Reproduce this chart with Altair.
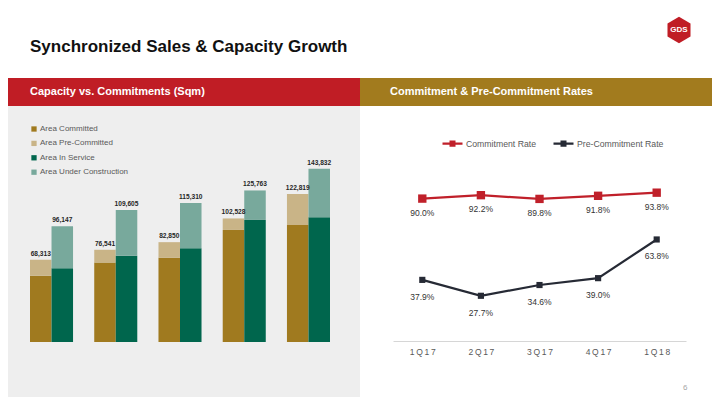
import altair as alt
import pandas as pd

# ---------------- data ----------------
quarters = ["1Q17", "2Q17", "3Q17", "4Q17", "1Q18"]
area_committed = [55058, 66012, 69876, 92982, 97095]
area_pre_committed = [13255, 10529, 12974, 9546, 25724]
area_in_service = [61176, 71597, 77813, 101288, 103513]
area_under_construction = [34971, 38008, 37497, 24475, 40319]
commit_totals = [68313, 76541, 82850, 102528, 122819]
capacity_totals = [96147, 109605, 115310, 125763, 143832]
commitment_rate = [90.0, 92.2, 89.8, 91.8, 93.8]
pre_commitment_rate = [37.9, 27.7, 34.6, 39.0, 63.8]

components = ["Area Committed", "Area Pre-Committed", "Area In Service", "Area Under Construction"]
component_colors = ["#A07A1F", "#C9B487", "#00664D", "#78A99C"]
series = ["Commitment Rate", "Pre-Commitment Rate"]
series_colors = ["#C0202A", "#262A35"]

title_text = "Synchronized Sales & Capacity Growth"
left_header = "Capacity vs. Commitments (Sqm)"
right_header = "Commitment & Pre-Commitment Rates"
page_number = "6"
logo_text = "GDS"

FONT = "Liberation Sans"

# ---------------- tables ----------------
bar_rows = []
for i, q in enumerate(quarters):
    bar_rows.append(dict(quarter=q, stack="commit", component=components[0], value=area_committed[i], ord=0))
    bar_rows.append(dict(quarter=q, stack="commit", component=components[1], value=area_pre_committed[i], ord=1))
    bar_rows.append(dict(quarter=q, stack="capacity", component=components[2], value=area_in_service[i], ord=0))
    bar_rows.append(dict(quarter=q, stack="capacity", component=components[3], value=area_under_construction[i], ord=1))
bars_df = pd.DataFrame(bar_rows)

lab_rows = []
for i, q in enumerate(quarters):
    lab_rows.append(dict(quarter=q, stack="commit", total=commit_totals[i], label=f"{commit_totals[i]:,}"))
    lab_rows.append(dict(quarter=q, stack="capacity", total=capacity_totals[i], label=f"{capacity_totals[i]:,}"))
labels_df = pd.DataFrame(lab_rows)

rate_rows = []
for i, q in enumerate(quarters):
    rate_rows.append(dict(quarter=q, series=series[0], rate=commitment_rate[i], label=f"{commitment_rate[i]:.1f}%"))
    rate_rows.append(dict(quarter=q, series=series[1], rate=pre_commitment_rate[i], label=f"{pre_commitment_rate[i]:.1f}%"))
rates_df = pd.DataFrame(rate_rows)

spaced = "join(split(datum.label, ''), '\u2009')"

W, H = 360, 405


def deco_rect(color, x0, x1, y0, y1):
    return alt.Chart(pd.DataFrame({"k": [0]})).mark_rect(color=color).encode(
        x=alt.value(x0), x2=alt.value(x1), y=alt.value(y0), y2=alt.value(y1))


def deco_text(txt, x, y, **kw):
    return alt.Chart(pd.DataFrame({"t": [txt]})).mark_text(align="left", baseline="middle", font=FONT, **kw).encode(
        x=alt.value(x), y=alt.value(y), text="t:N")


# ---------------- left panel ----------------
x_left = alt.X("quarter:N", sort=quarters,
               scale=alt.Scale(range=[30, 330], paddingInner=0.33, paddingOuter=0),
               axis=alt.Axis(title=None, labelAngle=0, ticks=False, domainColor="#D6D6D6", domainWidth=1,
                             labelColor="#595959", labelFontSize=8.5, labelPadding=7, offset=-63,
                             labelExpr=spaced, labelFont=FONT))
xoff = alt.XOffset("stack:N", sort=["commit", "capacity"], scale=alt.Scale(paddingInner=0, paddingOuter=0))
y_scale_left = alt.Scale(domain=[0, 150000], range=[342, 161.25], nice=False, zero=True)

bars = alt.Chart(bars_df).mark_bar().encode(
    x=x_left,
    xOffset=xoff,
    y=alt.Y("value:Q", stack="zero", scale=y_scale_left, axis=None),
    color=alt.Color("component:N", scale=alt.Scale(domain=components, range=component_colors),
                    legend=alt.Legend(title=None, orient="none", legendX=30, legendY=125,
                                      symbolType="square", symbolSize=28, symbolStrokeWidth=0,
                                      labelFontSize=8, labelColor="#595959", labelFont=FONT,
                                      rowPadding=6.4, labelOffset=2)),
    order=alt.Order("ord:Q"),
)

bar_labels = alt.Chart(labels_df).mark_text(baseline="alphabetic", dy=-4, fontSize=6.6, fontWeight="bold",
                                            color="#262626", font=FONT).encode(
    x=alt.X("quarter:N", sort=quarters),
    xOffset=alt.XOffset("stack:N", sort=["commit", "capacity"]),
    y=alt.Y("total:Q", scale=y_scale_left, axis=None),
    text="label:N",
)

left = alt.layer(
    deco_rect("#EEEEEE", 0, 360, 106, 405),
    deco_rect("#C01D25", 0, 360, 78, 106),
    deco_text(title_text, 30, 47, fontSize=17, fontWeight="bold", color="#111111"),
    deco_text(left_header, 30, 92, fontSize=11, fontWeight="bold", color="#FFFFFF"),
    bars,
    bar_labels,
).properties(width=W, height=H)

# ---------------- right panel ----------------
x_right = alt.X("quarter:N", sort=quarters,
                scale=alt.Scale(type="point", range=[33, 326], padding=0.5),
                axis=alt.Axis(title=None, labelAngle=0, ticks=False, domainColor="#D6D6D6", domainWidth=1,
                              labelColor="#595959", labelFontSize=8.5, labelPadding=6, offset=-64,
                              labelExpr=spaced, labelFont=FONT))
y_right = alt.Y("rate:Q", scale=alt.Scale(domain=[0, 100], range=[339, 183], nice=False), axis=None)
legend_symbol = "M-1,0L1,0M-0.3,-0.2L0.3,-0.2M-0.3,0L0.3,0M-0.3,0.2L0.3,0.2"
color_right = alt.Color("series:N", scale=alt.Scale(domain=series, range=series_colors),
                        legend=alt.Legend(title=None, orient="none", legendX=81, legendY=132,
                                          direction="horizontal", symbolType=legend_symbol,
                                          symbolSize=400, symbolStrokeWidth=2.2, labelFontSize=8.7,
                                          labelColor="#595959", labelFont=FONT, labelOffset=2,
                                          columnPadding=12))

lines = alt.Chart(rates_df).mark_line(strokeWidth=2.2).encode(x=x_right, y=y_right, color=color_right)
points = alt.Chart(rates_df).mark_point(shape="square", filled=True, opacity=1).encode(
    x=x_right, y=y_right, color=color_right,
    size=alt.Size("series:N", scale=alt.Scale(domain=series, range=[70, 38]), legend=None))
lab_commit = alt.Chart(rates_df).transform_filter(alt.datum.series == series[0]).mark_text(
    dy=14, fontSize=8.5, color="#333333", font=FONT).encode(x=x_right, y=y_right, text="label:N")
lab_pre = alt.Chart(rates_df).transform_filter(alt.datum.series == series[1]).mark_text(
    dy=17, fontSize=8.5, color="#333333", font=FONT).encode(x=x_right, y=y_right, text="label:N")

hexagon = "M0,-1L0.87,-0.5L0.87,0.5L0,1L-0.87,0.5L-0.87,-0.5Z"
logo = alt.Chart(pd.DataFrame({"k": [0]})).mark_point(shape=hexagon, filled=True, size=700, opacity=1,
                                                     color="#C01D25").encode(x=alt.value(319), y=alt.value(30))
logo_t = alt.Chart(pd.DataFrame({"t": [logo_text]})).mark_text(fontSize=8, fontWeight="bold", color="#FFFFFF",
                                                             font=FONT).encode(
    x=alt.value(319), y=alt.value(30), text="t:N")

right = alt.layer(
    deco_rect("#A27B1E", 0, 360, 78, 106),
    deco_text(right_header, 30, 92, fontSize=11, fontWeight="bold", color="#FFFFFF"),
    logo, logo_t,
    deco_text(page_number, 323, 388, fontSize=8, color="#A6A6A6"),
    lines, points, lab_commit, lab_pre,
).properties(width=W, height=H)

chart = alt.hconcat(left, right, spacing=0).properties(
    padding={"left": -8, "top": -8, "right": -8, "bottom": -8}
).resolve_scale(
    color="independent", x="independent", y="independent"
).configure(font=FONT).configure_view(stroke=None, strokeWidth=0)

chart.save("out.html", embed_options={"renderer": "svg", "actions": False})
